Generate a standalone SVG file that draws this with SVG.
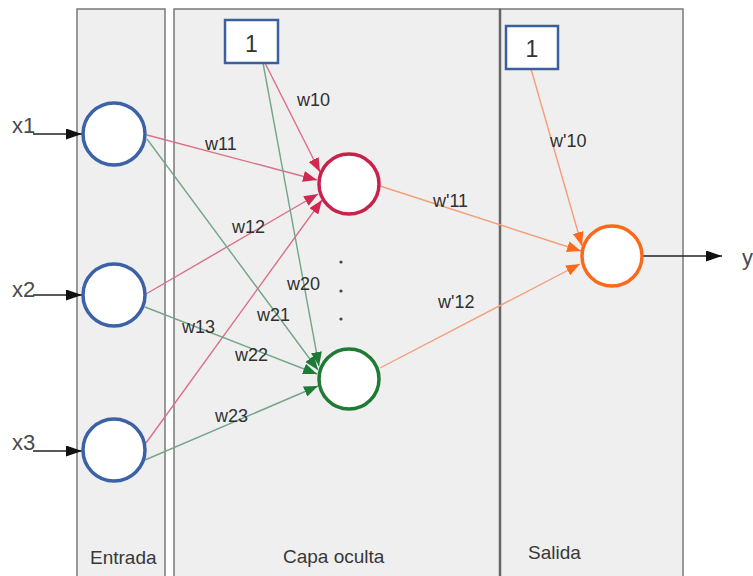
<svg xmlns="http://www.w3.org/2000/svg" width="753" height="576" viewBox="0 0 753 576">
  <style>
    .panel { fill: #efefef; stroke: #7a7a7a; stroke-width: 1.5; }
    .title { font-family: "Liberation Sans", Arial, sans-serif; font-size: 19px; fill: #383838; }
    .lbl { font-family: "Liberation Sans", Arial, sans-serif; font-size: 18px; fill: #303030; }
    .xlbl { font-family: "Liberation Sans", Arial, sans-serif; font-size: 22px; fill: #4a4a4a; }
    .one { font-family: "Liberation Sans", Arial, sans-serif; font-size: 23px; fill: #333; text-anchor: middle; }
    .bias { fill: #fff; stroke: #3b5f9c; stroke-width: 2.5; }
    .in { fill: #fff; stroke: #3b62a6; stroke-width: 3.5; }
    .hid1 { fill: #fff; stroke: #c8214b; stroke-width: 3.5; }
    .hid2 { fill: #fff; stroke: #1f7a35; stroke-width: 3.5; }
    .out { fill: #fff; stroke: #fb6a1c; stroke-width: 3.5; }
    .e-red { stroke: #db6f87; stroke-width: 1.4; fill: none; marker-end: url(#ah-red); }
    .e-green { stroke: #74a588; stroke-width: 1.4; fill: none; marker-end: url(#ah-green); }
    .e-orange { stroke: #f59e78; stroke-width: 1.4; fill: none; marker-end: url(#ah-orange); }
    .e-black { stroke: #222; stroke-width: 1.3; fill: none; marker-end: url(#ah-black); }
  </style>
  <defs>
    <marker id="ah-red" viewBox="0 0 14 11" refX="14" refY="5.5" markerWidth="14" markerHeight="11" markerUnits="userSpaceOnUse" orient="auto">
      <path d="M0,0 L14,5.5 L0,11 z" fill="#d0284f"/>
    </marker>
    <marker id="ah-green" viewBox="0 0 14 11" refX="14" refY="5.5" markerWidth="14" markerHeight="11" markerUnits="userSpaceOnUse" orient="auto">
      <path d="M0,0 L14,5.5 L0,11 z" fill="#1f7a35"/>
    </marker>
    <marker id="ah-orange" viewBox="0 0 14 11" refX="14" refY="5.5" markerWidth="14" markerHeight="11" markerUnits="userSpaceOnUse" orient="auto">
      <path d="M0,0 L14,5.5 L0,11 z" fill="#fb6a1c"/>
    </marker>
    <marker id="ah-black" viewBox="0 0 16 11" refX="16" refY="5.5" markerWidth="16" markerHeight="11" markerUnits="userSpaceOnUse" orient="auto">
      <path d="M0,0 L16,5.5 L0,11 z" fill="#111"/>
    </marker>
  </defs>

  <rect width="753" height="576" fill="#fff"/>

  <!-- layer panels -->
  <g id="panels">
    <rect class="panel" x="77" y="9" width="88" height="590"/>
    <rect class="panel" x="174" y="9" width="326" height="590"/>
    <rect class="panel" x="500" y="9" width="183" height="590"/>
    <line x1="500" y1="9" x2="500" y2="576" stroke="#666" stroke-width="2.5"/>
    <text class="title" x="90" y="564">Entrada</text>
    <text class="title" x="283" y="563">Capa oculta</text>
    <text class="title" x="528" y="559">Salida</text>
  </g>

  <!-- connectors -->
  <g id="connectors">
    <!-- inputs and output -->
    <line class="e-black" x1="33" y1="134" x2="82" y2="134"/>
    <line class="e-black" x1="33" y1="295" x2="82" y2="295"/>
    <line class="e-black" x1="33" y1="451" x2="82" y2="451"/>
    <line class="e-black" x1="643" y1="256" x2="722" y2="256"/>

    <!-- to hidden neuron 1 -->
    <line class="e-red" x1="265" y1="63" x2="320" y2="172"/>
    <line class="e-red" x1="147" y1="135" x2="317" y2="180"/>
    <line class="e-red" x1="146" y1="294" x2="318" y2="194"/>
    <line class="e-red" x1="146" y1="443" x2="322" y2="200"/>

    <!-- to hidden neuron 2 -->
    <line class="e-green" x1="263" y1="63" x2="319" y2="366"/>
    <line class="e-green" x1="147" y1="139" x2="318" y2="370"/>
    <line class="e-green" x1="145" y1="307" x2="317" y2="374"/>
    <line class="e-green" x1="145" y1="460" x2="318" y2="386"/>

    <!-- to output neuron -->
    <line class="e-orange" x1="380" y1="186" x2="581" y2="251"/>
    <line class="e-orange" x1="380" y1="368" x2="580" y2="264"/>
    <line class="e-orange" x1="531" y1="69" x2="582" y2="246"/>
  </g>

  <!-- weight labels -->
  <g id="weights">
    <text class="lbl" x="297" y="106">w10</text>
    <text class="lbl" x="205" y="150">w11</text>
    <text class="lbl" x="232" y="233">w12</text>
    <text class="lbl" x="182" y="333">w13</text>
    <text class="lbl" x="287" y="290">w20</text>
    <text class="lbl" x="257" y="321">w21</text>
    <text class="lbl" x="235" y="361">w22</text>
    <text class="lbl" x="215" y="422">w23</text>
    <text class="lbl" x="550" y="147">w'10</text>
    <text class="lbl" x="433" y="207">w'11</text>
    <text class="lbl" x="438" y="308">w'12</text>
  </g>

  <!-- input labels -->
  <g id="io-labels">
    <text class="xlbl" x="12" y="133">x1</text>
    <text class="xlbl" x="12" y="297">x2</text>
    <text class="xlbl" x="12" y="450">x3</text>
    <text class="xlbl" x="742" y="265">y</text>
  </g>

  <!-- nodes -->
  <g id="bias-hidden">
    <rect class="bias" x="225" y="20" width="53" height="43"/>
    <text class="one" x="251.5" y="52">1</text>
  </g>
  <g id="bias-output">
    <rect class="bias" x="506" y="26" width="52" height="43"/>
    <text class="one" x="532" y="57">1</text>
  </g>
  <g id="x1"><circle class="in" cx="114" cy="134" r="31"/></g>
  <g id="x2"><circle class="in" cx="114" cy="295" r="31"/></g>
  <g id="x3"><circle class="in" cx="114" cy="450" r="31"/></g>
  <g id="h1"><circle class="hid1" cx="349" cy="184" r="30"/></g>
  <g id="h2"><circle class="hid2" cx="349" cy="379" r="30"/></g>
  <g id="ellipsis">
    <circle cx="341" cy="262" r="1.6" fill="#444"/>
    <circle cx="341" cy="291" r="1.6" fill="#444"/>
    <circle cx="341" cy="319" r="1.6" fill="#444"/>
  </g>
  <g id="out"><circle class="out" cx="612" cy="256" r="30"/></g>
</svg>
